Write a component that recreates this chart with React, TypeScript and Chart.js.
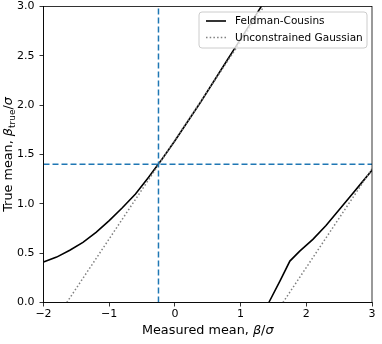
import React, { useEffect, useRef } from "react";
import { Chart, registerables } from "chart.js";

Chart.register(...registerables);

// Feldman-Cousins belt, upper branch
const fcUpperX = [-2.0, -1.8, -1.6, -1.4, -1.2, -1.0, -0.8, -0.6, -0.4, -0.2, 0.0, 0.2, 0.4, 0.6, 0.8, 1.0, 1.2, 1.4];
const fcUpperY = [0.41, 0.46, 0.53, 0.61, 0.71, 0.83, 0.96, 1.10, 1.27, 1.45, 1.64, 1.84, 2.04, 2.25, 2.46, 2.67, 2.88, 3.09];
// Feldman-Cousins belt, lower branch
const fcLowerX = [1.43, 1.6, 1.75, 1.9, 2.1, 2.3, 2.5, 2.7, 2.85, 3.0];
const fcLowerY = [0.0, 0.22, 0.42, 0.52, 0.64, 0.78, 0.94, 1.1, 1.22, 1.34];
// Unconstrained Gaussian (x ± 1.645)
const gaussUpperX = [-1.645, 1.355];
const gaussUpperY = [0.0, 3.0];
const gaussLowerX = [1.645, 3.0];
const gaussLowerY = [0.0, 1.355];
// Crosshair
const crossX = -0.25;
const crossY = 1.4;

const xMin = -2, xMax = 3, yMin = 0, yMax = 3;
const xTicks = [-2, -1, 0, 1, 2, 3];
const yTicks = [0, 0.5, 1.0, 1.5, 2.0, 2.5, 3.0];
const legendLabels = ["Feldman-Cousins", "Unconstrained Gaussian"];

const FONT = "'DejaVu Sans', sans-serif";

const pts = (xs: number[], ys: number[]) => xs.map((x, i) => ({ x, y: ys[i] }));
const fmtX = (v: number) => (v < 0 ? "\u2212" + Math.abs(v) : String(v));

const framePlugin = {
  id: "frame",
  afterDraw(chart: any) {
    const { ctx, chartArea: a } = chart;
    ctx.save();
    ctx.strokeStyle = "#000";
    ctx.lineWidth = 0.8;
    ctx.strokeRect(a.left, a.top, a.right - a.left, a.bottom - a.top);

    // Legend
    const w = 168, h = 36;
    const lx = a.right - 5 - w, ly = a.top + 5.5;
    const r = 3;
    ctx.beginPath();
    ctx.moveTo(lx + r, ly);
    ctx.lineTo(lx + w - r, ly);
    ctx.quadraticCurveTo(lx + w, ly, lx + w, ly + r);
    ctx.lineTo(lx + w, ly + h - r);
    ctx.quadraticCurveTo(lx + w, ly + h, lx + w - r, ly + h);
    ctx.lineTo(lx + r, ly + h);
    ctx.quadraticCurveTo(lx, ly + h, lx, ly + h - r);
    ctx.lineTo(lx, ly + r);
    ctx.quadraticCurveTo(lx, ly, lx + r, ly);
    ctx.closePath();
    ctx.fillStyle = "rgba(255,255,255,0.8)";
    ctx.fill();
    ctx.strokeStyle = "#cccccc";
    ctx.lineWidth = 1;
    ctx.stroke();

    const rows = [ly + 9, ly + 25.5];
    ctx.font = `10.5px ${FONT}`;
    ctx.textBaseline = "middle";
    ctx.textAlign = "left";
    for (let i = 0; i < 2; i++) {
      ctx.beginPath();
      ctx.moveTo(lx + 7, rows[i]);
      ctx.lineTo(lx + 27, rows[i]);
      if (i === 0) {
        ctx.setLineDash([]);
        ctx.strokeStyle = "#000";
        ctx.lineWidth = 1.6;
      } else {
        ctx.setLineDash([1.5, 2.2]);
        ctx.strokeStyle = "#808080";
        ctx.lineWidth = 1.5;
      }
      ctx.stroke();
      ctx.setLineDash([]);
      ctx.fillStyle = "#000";
      ctx.fillText(legendLabels[i], lx + 36, rows[i] + 0.5);
    }

    // Axis titles
    const titleSize = 12.8;
    const fontFor = (it: boolean, s: number) => `${it ? "italic " : ""}${s}px ${FONT}`;
    // x title
    const xParts: [string, boolean][] = [["Measured mean, ", false], ["\u03b2", true], ["/", false], ["\u03c3", true]];
    let total = 0;
    for (const [t, it] of xParts) { ctx.font = fontFor(it, titleSize); total += ctx.measureText(t).width; }
    let cx = (a.left + a.right) / 2 - total / 2;
    const ty = 331;
    ctx.textBaseline = "middle";
    for (const [t, it] of xParts) {
      ctx.font = fontFor(it, titleSize);
      ctx.fillText(t, cx, ty);
      cx += ctx.measureText(t).width;
    }

    // y title (rotated)
    const sub = titleSize * 0.7;
    const yParts: [string, boolean, boolean][] = [["True mean, ", false, false], ["\u03b2", true, false], ["true", false, true], ["/", false, false], ["\u03c3", true, false]];
    total = 0;
    for (const [t, it, sb] of yParts) { ctx.font = fontFor(it, sb ? sub : titleSize); total += ctx.measureText(t).width; }
    ctx.translate(9, (a.top + a.bottom) / 2);
    ctx.rotate(-Math.PI / 2);
    let px = -total / 2;
    for (const [t, it, sb] of yParts) {
      ctx.font = fontFor(it, sb ? sub : titleSize);
      ctx.fillText(t, px, sb ? 3.5 : 0);
      px += ctx.measureText(t).width;
    }
    ctx.restore();
  },
};

export default function App() {
  const ref = useRef<HTMLCanvasElement>(null);
  useEffect(() => {
    document.body.style.margin = "0";
    const chart = new Chart(ref.current!, {
      type: "scatter",
      data: {
        datasets: [
          {
            label: "vline",
            data: [{ x: crossX, y: yMin }, { x: crossX, y: yMax }],
            showLine: true, borderColor: "#1f77b4", borderWidth: 1.5, borderDash: [6, 3], pointRadius: 0,
          },
          {
            label: "hline",
            data: [{ x: xMin, y: crossY }, { x: xMax, y: crossY }],
            showLine: true, borderColor: "#1f77b4", borderWidth: 1.5, borderDash: [6, 3], pointRadius: 0,
          },
          {
            label: legendLabels[1],
            data: pts(gaussUpperX, gaussUpperY),
            showLine: true, borderColor: "#808080", borderWidth: 1.5, borderDash: [1.5, 2.2], pointRadius: 0,
          },
          {
            label: legendLabels[1] + " (lower)",
            data: pts(gaussLowerX, gaussLowerY),
            showLine: true, borderColor: "#808080", borderWidth: 1.5, borderDash: [1.5, 2.2], pointRadius: 0,
          },
          {
            label: legendLabels[0],
            data: pts(fcUpperX, fcUpperY),
            showLine: true, borderColor: "#000", borderWidth: 1.6, pointRadius: 0, tension: 0,
          },
          {
            label: legendLabels[0] + " (lower)",
            data: pts(fcLowerX, fcLowerY),
            showLine: true, borderColor: "#000", borderWidth: 1.6, pointRadius: 0, tension: 0,
          },
        ],
      },
      options: {
        responsive: false,
        animation: false,
        layout: { padding: { top: 6.5, right: 10, left: 0, bottom: 0 } },
        plugins: { legend: { display: false }, tooltip: { enabled: false } },
        scales: {
          x: {
            type: "linear", min: xMin, max: xMax,
            afterBuildTicks: (s: any) => { s.ticks = xTicks.map((v) => ({ value: v })); },
            afterFit: (s: any) => { s.height = 41.5; s.paddingLeft = 0; s.paddingRight = 0; },
            grid: { display: true, drawOnChartArea: false, drawTicks: true, tickLength: 4, color: "#000", lineWidth: 0.8 },
            border: { display: true, color: "#000", width: 0.8 },
            ticks: { color: "#000", font: { family: FONT, size: 11 }, padding: 1, maxRotation: 0, callback: (v: any) => fmtX(Number(v)) },
          },
          y: {
            type: "linear", min: yMin, max: yMax,
            afterBuildTicks: (s: any) => { s.ticks = yTicks.map((v) => ({ value: v })); },
            afterFit: (s: any) => { s.width = 43.5; s.paddingTop = 0; s.paddingBottom = 0; },
            grid: { display: true, drawOnChartArea: false, drawTicks: true, tickLength: 4, color: "#000", lineWidth: 0.8 },
            border: { display: true, color: "#000", width: 0.8 },
            ticks: { color: "#000", font: { family: FONT, size: 11 }, padding: 5, callback: (v: any) => Number(v).toFixed(1) },
          },
        },
      },
      plugins: [framePlugin],
    });
    return () => chart.destroy();
  }, []);
  return (
    <canvas ref={ref} width={382} height={344} style={{ display: "block", position: "absolute", left: 0, top: 0 }} />
  );
}
